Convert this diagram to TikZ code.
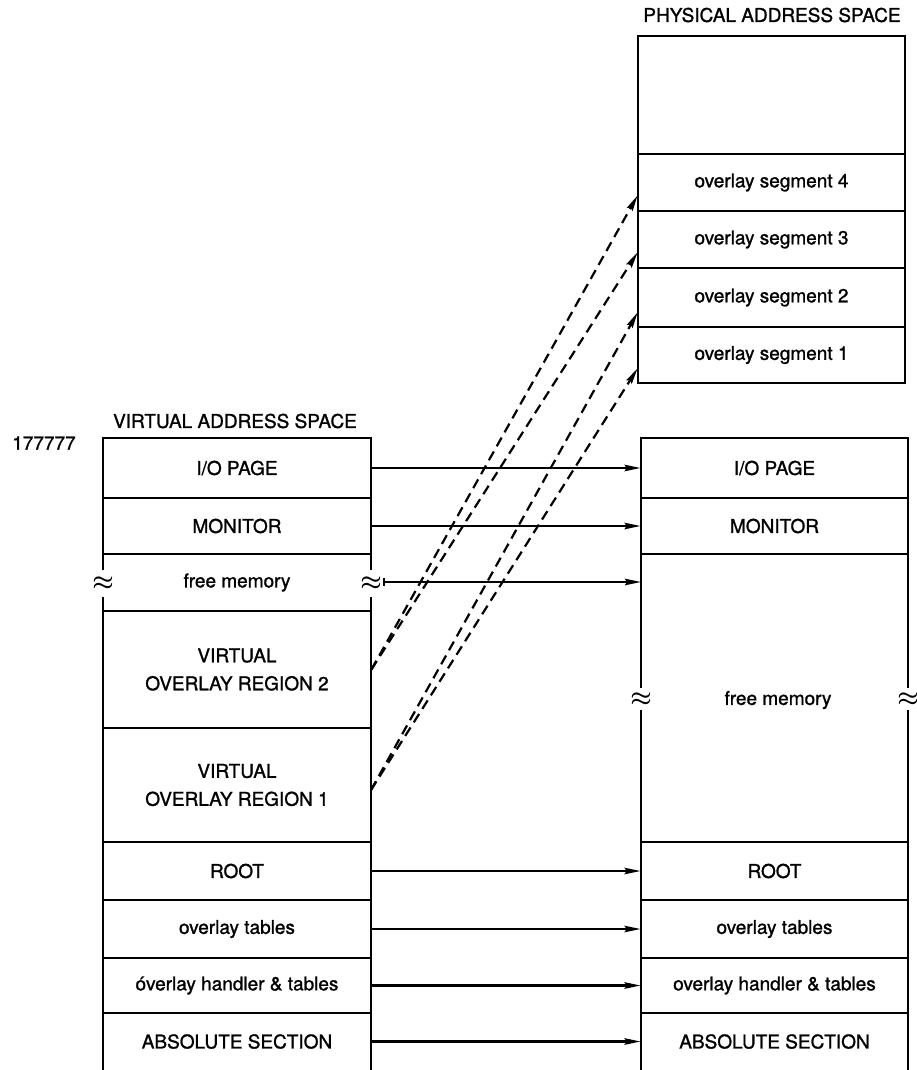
\documentclass[tikz,border=0pt]{standalone}
\usepackage{fontspec}
\setmainfont{TeX Gyre Heros}[BoldFont={TeX Gyre Heros}, BoldFeatures={FakeBold=1.2}]
\usetikzlibrary{arrows.meta,fit}
\begin{document}
\begin{tikzpicture}[x=0.5pt,y=-0.5pt,
  font=\fontsize{9.5}{12}\selectfont\bfseries,
  boxline/.style={line width=1.4pt, line cap=rect},
  row/.style={inner sep=0pt},
  txt/.style={align=center, inner sep=1pt},
  conn/.style={line width=1.1pt, -{Stealth[length=8pt,width=3.2pt,inset=1pt]}},
  dconn/.style={line width=1.1pt, dash pattern=on 5pt off 3pt, -{Stealth[length=8pt,width=3.2pt,inset=1pt]}},
  wave/.style={inner sep=0pt, font=\fontsize{12.5}{13}\selectfont\boldmath}]
\useasboundingbox (0,0) rectangle (916,1070);

% ---------- titles ----------
\node (ptitle) at (772,15) {PHYSICAL ADDRESS SPACE};
\node (vtitle) at (235,421) {VIRTUAL ADDRESS SPACE};
\node (addr) at (44,443) {177777};

% ---------- physical box ----------
\draw[boxline] (638,36) rectangle (905,383);
\foreach \yy in {154,211,268,327} \draw[boxline] (638,\yy) -- (905,\yy);
\node[row, fit={(638,36)(905,154)}] (ptop) {};
\node[row, fit={(638,154)(905,211)}] (seg4) {};
\node[row, fit={(638,211)(905,268)}] (seg3) {};
\node[row, fit={(638,268)(905,327)}] (seg2) {};
\node[row, fit={(638,327)(905,383)}] (seg1) {};
\node[txt] (seg4t) at (seg4.center) {overlay segment 4};
\node[txt] (seg3t) at (seg3.center) {overlay segment 3};
\node[txt] (seg2t) at (seg2.center) {overlay segment 2};
\node[txt] (seg1t) at (seg1.center) {overlay segment 1};

% ---------- virtual box ----------
\draw[boxline] (103,1072) -- (103,598);
\draw[boxline] (103,569) -- (103,438) -- (371,438) -- (371,569);
\draw[boxline] (371,598) -- (371,1072);
\foreach \yy in {498,554,611,728,842,900,958,1013} \draw[boxline] (103,\yy) -- (371,\yy);
\node[row, fit={(103,438)(371,498)}] (lio) {};
\node[row, fit={(103,498)(371,554)}] (lmon) {};
\node[row, fit={(103,554)(371,611)}] (lfree) {};
\node[row, fit={(103,611)(371,728)}] (lr2) {};
\node[row, fit={(103,728)(371,842)}] (lr1) {};
\node[row, fit={(103,842)(371,900)}] (lroot) {};
\node[row, fit={(103,900)(371,958)}] (ltab) {};
\node[row, fit={(103,958)(371,1013)}] (lhand) {};
\node[row, fit={(103,1013)(371,1070)}] (labs) {};
\node[txt] (liot) at (lio.center) {I/O PAGE};
\node[txt] (lmont) at (lmon.center) {MONITOR};
\node[txt] (lfreet) at (lfree.center) {free memory};
\node[txt] (lr2t) at (lr2.center) {VIRTUAL\\[2pt]OVERLAY REGION 2};
\node[txt] (lr1t) at (lr1.center) {VIRTUAL\\[2pt]OVERLAY REGION 1};
\node[txt] (lroott) at (lroot.center) {ROOT};
\node[txt] (ltabt) at (ltab.center) {overlay tables};
\node[txt] (lhandt) at (lhand.center) {óverlay handler \& tables};
\node[txt] (labst) at (labs.center) {ABSOLUTE SECTION};
\node[wave] (wl1) at (103,583) {$\approx$};
\node[wave] (wl2) at (371,583) {$\approx$};

% ---------- physical (lower) box ----------
\draw[boxline] (641,1072) -- (641,711);
\draw[boxline] (641,687) -- (641,438) -- (908,438) -- (908,687);
\draw[boxline] (908,711) -- (908,1072);
\foreach \yy in {498,554,842,900,958,1013} \draw[boxline] (641,\yy) -- (908,\yy);
\node[row, fit={(641,438)(908,498)}] (rio) {};
\node[row, fit={(641,498)(908,554)}] (rmon) {};
\node[row, fit={(641,554)(908,842)}] (rfree) {};
\node[row, fit={(641,842)(908,900)}] (rroot) {};
\node[row, fit={(641,900)(908,958)}] (rtab) {};
\node[row, fit={(641,958)(908,1013)}] (rhand) {};
\node[row, fit={(641,1013)(908,1070)}] (rabs) {};
\node[txt] (riot) at (rio.center) {I/O PAGE};
\node[txt] (rmont) at (rmon.center) {MONITOR};
\node[txt] (rfreet) at (778,700) {free memory};
\node[txt] (rroott) at (rroot.center) {ROOT};
\node[txt] (rtabt) at (rtab.center) {overlay tables};
\node[txt] (rhandt) at (rhand.center) {overlay handler \& tables};
\node[txt] (rabst) at (rabs.center) {ABSOLUTE SECTION};
\node[wave] (wr1) at (641,699) {$\approx$};
\node[wave] (wr2) at (908,699) {$\approx$};

% ---------- connectors ----------
\coordinate (fmstart) at (383,582);
\coordinate (fmend) at (641,582);
\draw[conn] (lio.east) -- (rio.west);
\draw[conn] (lmon.east) -- (rmon.west);
\draw[line width=1.1pt, {Bar[width=4pt]}-{Stealth[length=8pt,width=3.2pt,inset=1pt]}] (fmstart) -- (fmend);
\draw[conn] (lroot.east) -- (rroot.west);
\draw[conn] (ltab.east) -- (rtab.west);
\draw[conn] (lhand.east) -- (rhand.west);
\draw[conn] (labs.east) -- (rabs.west);

\coordinate (r1out) at (371,790);
\draw[dconn] (lr2.east) -- ([yshift=8pt]seg4.south west);
\draw[dconn] (lr2.east) -- ([yshift=8pt]seg3.south west);
\draw[dconn] (r1out) -- ([yshift=7.5pt]seg2.south west);
\draw[dconn] (r1out) -- ([yshift=7.5pt]seg1.south west);
\end{tikzpicture}
\end{document}
